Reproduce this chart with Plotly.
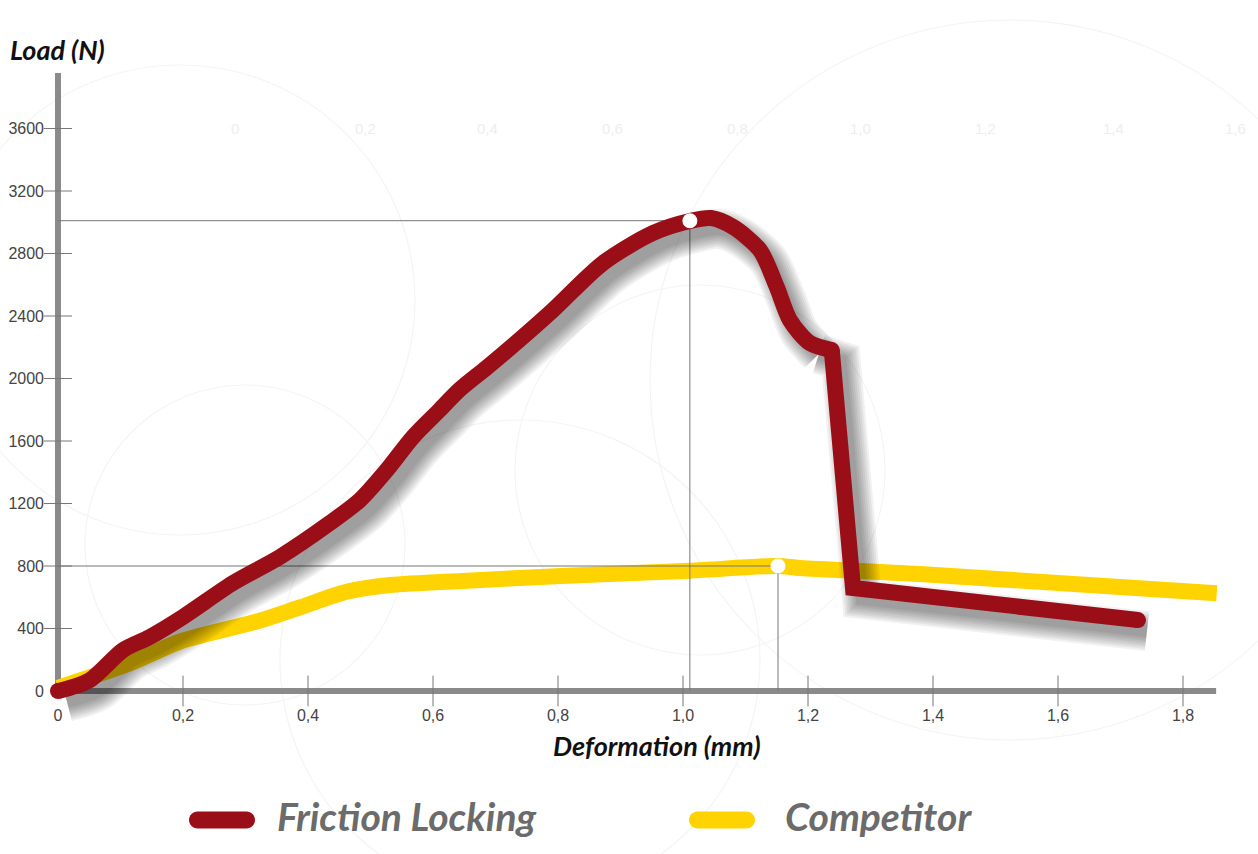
import plotly.graph_objects as go

# ---------------- data ----------------
red_x = [0, 0.051, 0.104, 0.147, 0.2, 0.28, 0.355, 0.435, 0.483, 0.526, 0.568, 0.611, 0.643, 0.686,
         0.739, 0.792, 0.872, 0.952, 1.011, 1.045, 1.08, 1.123, 1.150, 1.171, 1.203, 1.238, 1.272, 1.728]
red_y = [0, 70, 262, 346, 474, 691, 858, 1075, 1222, 1414, 1626, 1800, 1930, 2070,
         2250, 2438, 2739, 2931, 3008, 3027, 2970, 2822, 2586, 2374, 2227, 2182, 659, 454]
red_break = 25  # index where the smooth curve turns into the sharp drop

yel_x = [0, 0.12, 0.195, 0.323, 0.387, 0.462, 0.531, 0.654, 0.814, 1.011, 1.152, 1.187, 1.379, 1.854]
yel_y = [20, 186, 316, 450, 535, 635, 678, 706, 738, 770, 800, 787, 749, 625]

mark_x = [1.011, 1.152]
mark_y = [3010, 800]

x_ticks = [0, 0.2, 0.4, 0.6, 0.8, 1.0, 1.2, 1.4, 1.6, 1.8]
x_ticktext = ["0", "0,2", "0,4", "0,6", "0,8", "1,0", "1,2", "1,4", "1,6", "1,8"]
y_ticks = [0, 400, 800, 1200, 1600, 2000, 2400, 2800, 3200, 3600]
y_ticktext = [str(v) for v in y_ticks]
x_axis_end = 1.853
y_axis_end = 3955

series_names = ["Friction Locking", "Competitor"]

# ---------------- geometry helpers ----------------
W, H = 1258, 854
X0PX, Y0PX = 58, 691
XS, YS = 625.0, 0.15625  # px per unit


def dx(px):
    return (px - X0PX) / XS


def dy(py):
    return (Y0PX - py) / YS


RED = "#9A0E18"
YEL = "#FFD300"
AX = "#8a8a8a"
LW = 16

fig = go.Figure()

# faint decorative arcs in background
arcs = [(180, 300, 235), (245, 545, 160), (700, 470, 185), (1010, 380, 360), (520, 660, 240)]
for cx, cy, r in arcs:
    fig.add_shape(type="circle", xref="x", yref="y",
                  x0=dx(cx - r), x1=dx(cx + r), y0=dy(cy + r), y1=dy(cy - r),
                  line=dict(color="#f4f4f4", width=1.2), layer="below")

# faint ghost labels at top
for t, px in zip(x_ticktext[:9], [235, 365, 487, 612, 737, 860, 985, 1113, 1235]):
    fig.add_annotation(x=dx(px), y=dy(128), text=t, showarrow=False,
                       font=dict(family="Liberation Sans", size=15, color="#eeeeee"))

# axes lines
fig.add_trace(go.Scatter(x=[0, x_axis_end], y=[0, 0], mode="lines",
                         line=dict(color=AX, width=6), hoverinfo="skip", showlegend=False))
fig.add_trace(go.Scatter(x=[0, 0], y=[0, y_axis_end], mode="lines",
                         line=dict(color=AX, width=6), hoverinfo="skip", showlegend=False))
# tick marks
fig.add_trace(go.Scatter(x=x_ticks[1:], y=[0] * (len(x_ticks) - 1), mode="markers",
                         marker=dict(symbol="line-ns", size=22, line=dict(color="#777", width=1)),
                         hoverinfo="skip", showlegend=False))
fig.add_trace(go.Scatter(x=[0] * (len(y_ticks) - 1), y=y_ticks[1:], mode="markers",
                         marker=dict(symbol="line-ew", size=20, line=dict(color="#777", width=1)),
                         hoverinfo="skip", showlegend=False))

# competitor curve
fig.add_trace(go.Scatter(x=yel_x, y=yel_y, mode="lines", name=series_names[1],
                         line=dict(color=YEL, width=LW, shape="spline", smoothing=0.8),
                         showlegend=False))

# reference lines
for mx, my in zip(mark_x, mark_y):
    fig.add_trace(go.Scatter(x=[0, mx, mx], y=[my, my, 0], mode="lines",
                             line=dict(color="#777", width=1), hoverinfo="skip", showlegend=False))

# red shadow (soft, layered)
SHX, SHY = 9 / XS, -11 / YS
smooth_x, smooth_y = red_x[:red_break + 1], red_y[:red_break + 1]
sharp_x, sharp_y = red_x[red_break:], red_y[red_break:]
shadow_sharp_x, shadow_sharp_y = red_x[red_break - 1:], red_y[red_break - 1:]
for w in [40, 36, 32, 28, 24, 20, 16, 12]:
    col = "rgba(0,0,0,0.055)"
    fig.add_trace(go.Scatter(x=[v + SHX for v in smooth_x[:-1]], y=[v + SHY for v in smooth_y[:-1]],
                             mode="lines", line=dict(color=col, width=w, shape="spline", smoothing=0.8),
                             hoverinfo="skip", showlegend=False))
    fig.add_trace(go.Scatter(x=[v + SHX for v in shadow_sharp_x], y=[v + SHY for v in shadow_sharp_y],
                             mode="lines", line=dict(color=col, width=w),
                             hoverinfo="skip", showlegend=False))

# friction locking curve
fig.add_trace(go.Scatter(x=smooth_x, y=smooth_y, mode="lines", name=series_names[0],
                         line=dict(color=RED, width=LW, shape="spline", smoothing=0.8),
                         showlegend=False))
fig.add_trace(go.Scatter(x=sharp_x, y=sharp_y, mode="lines",
                         line=dict(color=RED, width=LW), hoverinfo="skip", showlegend=False))
fig.add_trace(go.Scatter(x=[red_x[0], red_x[red_break], red_x[-1]],
                         y=[red_y[0], red_y[red_break], red_y[-1]], mode="markers",
                         marker=dict(color=RED, size=LW, line=dict(width=0)),
                         hoverinfo="skip", showlegend=False))

# white markers
fig.add_trace(go.Scatter(x=mark_x, y=mark_y, mode="markers",
                         marker=dict(color="white", size=15, line=dict(width=0)),
                         hoverinfo="skip", showlegend=False))

# axis titles
fig.add_annotation(xref="paper", yref="paper", x=8 / W, y=1 - 50 / H, xanchor="left", yanchor="middle",
                   text="<b><i>Load (N)</i></b>", showarrow=False,
                   font=dict(family="Lato", size=27, color="#111111"))
fig.add_annotation(xref="paper", yref="paper", x=657 / W, y=1 - 745 / H, xanchor="center", yanchor="middle",
                   text="<b><i>Deformation (mm)</i></b>", showarrow=False,
                   font=dict(family="Lato", size=27, color="#111111"))


# legend (manual)
def pill(cx, cy, w, h, color):
    r = h / 2
    k = 0.5523 * r
    x0, x1 = -w / 2, w / 2
    y0, y1 = -h / 2, h / 2
    path = (f"M{x0 + r},{y0} L{x1 - r},{y0} "
            f"C{x1 - r + k},{y0} {x1},{-k} {x1},0 "
            f"C{x1},{k} {x1 - r + k},{y1} {x1 - r},{y1} "
            f"L{x0 + r},{y1} "
            f"C{x0 + r - k},{y1} {x0},{k} {x0},0 "
            f"C{x0},{-k} {x0 + r - k},{y0} {x0 + r},{y0} Z")
    fig.add_shape(type="path", xref="paper", yref="paper", xsizemode="pixel", ysizemode="pixel",
                  xanchor=cx / W, yanchor=1 - cy / H, path=path,
                  fillcolor=color, line=dict(width=0))


pill(222, 820, 66, 17, RED)
pill(722, 820, 66, 17, YEL)
fig.add_annotation(xref="paper", yref="paper", x=275 / W, y=1 - 816 / H, xanchor="left", yanchor="middle",
                   text=f"<b><i>{series_names[0]}</i></b>", showarrow=False,
                   font=dict(family="Lato", size=39, color="#6b6b6b"))
fig.add_annotation(xref="paper", yref="paper", x=783 / W, y=1 - 816 / H, xanchor="left", yanchor="middle",
                   text=f"<b><i>{series_names[1]}</i></b>", showarrow=False,
                   font=dict(family="Lato", size=39, color="#6b6b6b"))

fig.update_layout(
    width=W, height=H, margin=dict(l=0, r=0, t=0, b=0),
    paper_bgcolor="white", plot_bgcolor="white",
    xaxis=dict(range=[dx(0), dx(W)], showgrid=False, zeroline=False, showline=False,
               tickvals=x_ticks, ticktext=x_ticktext, ticks="", anchor="free",
               position=(H - Y0PX) / H, ticklabelstandoff=13,
               tickfont=dict(family="Liberation Sans", size=16, color="#444")),
    yaxis=dict(range=[dy(H), dy(0)], showgrid=False, zeroline=False, showline=False,
               tickvals=y_ticks, ticktext=y_ticktext, ticks="", anchor="free",
               position=X0PX / W, ticklabelstandoff=14,
               tickfont=dict(family="Liberation Sans", size=16, color="#444")),
    showlegend=False,
)

fig.write_html("out.html", config={"displayModeBar": False},
               post_script="document.body.style.margin='0px';document.body.style.overflow='hidden';")
